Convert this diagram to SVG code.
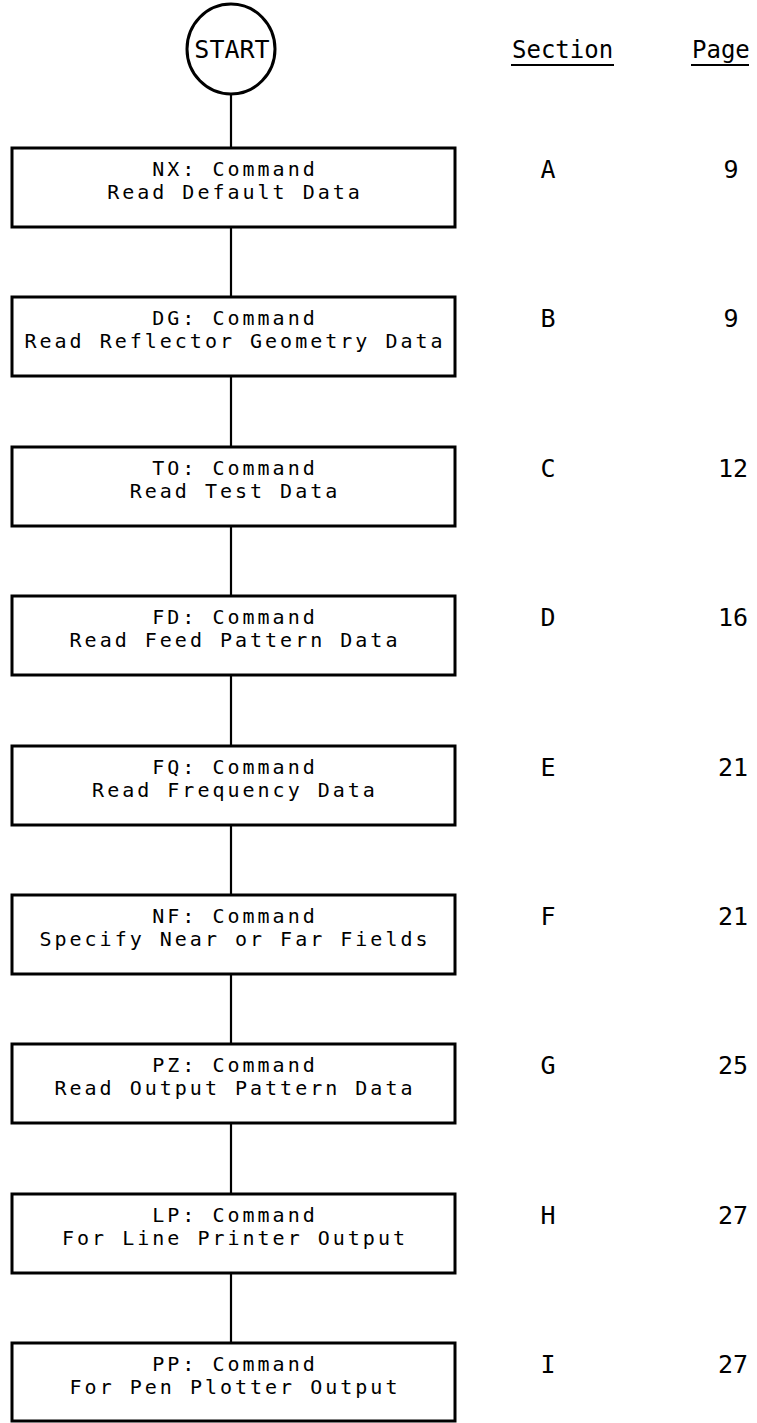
<svg xmlns="http://www.w3.org/2000/svg" width="757" height="1423" viewBox="0 0 757 1423">
<style>
.box{fill:#fff;stroke:#000;stroke-width:3}
.conn{stroke:#000;stroke-width:2.2;fill:none}
.t{font-family:"DejaVu Sans Mono","Liberation Mono",monospace;font-size:20px;letter-spacing:3px;text-anchor:middle;fill:#000}
.c{font-family:"DejaVu Sans Mono","Liberation Mono",monospace;font-size:25px;text-anchor:middle;fill:#000}
.h{font-family:"DejaVu Sans Mono","Liberation Mono",monospace;font-size:24px;fill:#000}
</style>
<rect width="757" height="1423" fill="#fff"/>
<g id="connectors">
<line class="conn" x1="231" y1="94" x2="231" y2="148"/>
<line class="conn" x1="231" y1="227" x2="231" y2="297"/>
<line class="conn" x1="231" y1="376" x2="231" y2="447"/>
<line class="conn" x1="231" y1="526" x2="231" y2="596"/>
<line class="conn" x1="231" y1="675" x2="231" y2="746"/>
<line class="conn" x1="231" y1="825" x2="231" y2="895"/>
<line class="conn" x1="231" y1="974" x2="231" y2="1044"/>
<line class="conn" x1="231" y1="1123" x2="231" y2="1194"/>
<line class="conn" x1="231" y1="1273" x2="231" y2="1343"/>
</g>
<g id="start">
<ellipse cx="231" cy="49" rx="44" ry="45" fill="#fff" stroke="#000" stroke-width="3"/>
<text class="c" x="232" y="58">START</text>
</g>
<g id="headers">
<text class="h" x="512" y="58">Section</text>
<line x1="511" y1="65" x2="614" y2="65" stroke="#000" stroke-width="2"/>
<text class="h" x="692" y="58">Page</text>
<line x1="691" y1="65" x2="749" y2="65" stroke="#000" stroke-width="2"/>
</g>
<g id="nx">
<rect class="box" x="12" y="148" width="443" height="79"/>
<text class="t" x="235" y="176">NX: Command</text>
<text class="t" x="235" y="199">Read Default Data</text>
<text class="c" x="548" y="178">A</text>
<text class="c" x="731" y="178">9</text>
</g>
<g id="dg">
<rect class="box" x="12" y="297" width="443" height="79"/>
<text class="t" x="235" y="325">DG: Command</text>
<text class="t" x="235" y="348">Read Reflector Geometry Data</text>
<text class="c" x="548" y="327">B</text>
<text class="c" x="731" y="327">9</text>
</g>
<g id="to">
<rect class="box" x="12" y="447" width="443" height="79"/>
<text class="t" x="235" y="475">TO: Command</text>
<text class="t" x="235" y="498">Read Test Data</text>
<text class="c" x="548" y="477">C</text>
<text class="c" x="733" y="477">12</text>
</g>
<g id="fd">
<rect class="box" x="12" y="596" width="443" height="79"/>
<text class="t" x="235" y="624">FD: Command</text>
<text class="t" x="235" y="647">Read Feed Pattern Data</text>
<text class="c" x="548" y="626">D</text>
<text class="c" x="733" y="626">16</text>
</g>
<g id="fq">
<rect class="box" x="12" y="746" width="443" height="79"/>
<text class="t" x="235" y="774">FQ: Command</text>
<text class="t" x="235" y="797">Read Frequency Data</text>
<text class="c" x="548" y="776">E</text>
<text class="c" x="733" y="776">21</text>
</g>
<g id="nf">
<rect class="box" x="12" y="895" width="443" height="79"/>
<text class="t" x="235" y="923">NF: Command</text>
<text class="t" x="235" y="946">Specify Near or Far Fields</text>
<text class="c" x="548" y="925">F</text>
<text class="c" x="733" y="925">21</text>
</g>
<g id="pz">
<rect class="box" x="12" y="1044" width="443" height="79"/>
<text class="t" x="235" y="1072">PZ: Command</text>
<text class="t" x="235" y="1095">Read Output Pattern Data</text>
<text class="c" x="548" y="1074">G</text>
<text class="c" x="733" y="1074">25</text>
</g>
<g id="lp">
<rect class="box" x="12" y="1194" width="443" height="79"/>
<text class="t" x="235" y="1222">LP: Command</text>
<text class="t" x="235" y="1245">For Line Printer Output</text>
<text class="c" x="548" y="1224">H</text>
<text class="c" x="733" y="1224">27</text>
</g>
<g id="pp">
<rect class="box" x="12" y="1343" width="443" height="78"/>
<text class="t" x="235" y="1371">PP: Command</text>
<text class="t" x="235" y="1394">For Pen Plotter Output</text>
<text class="c" x="548" y="1373">I</text>
<text class="c" x="733" y="1373">27</text>
</g>
</svg>
